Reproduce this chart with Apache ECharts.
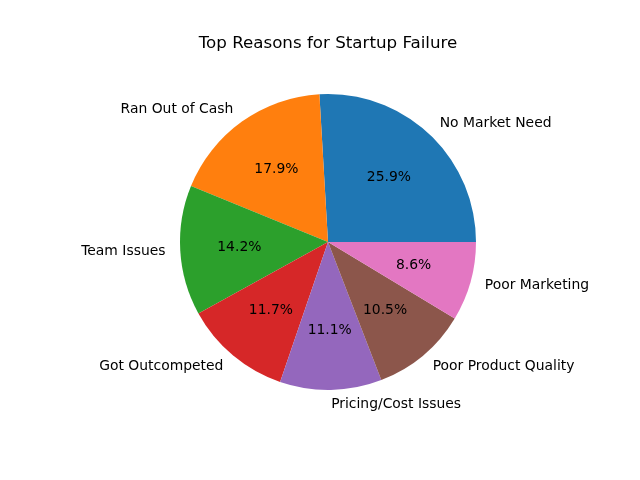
<!DOCTYPE html>
<html>
<head>
<meta charset="utf-8">
<script src="https://cdn.jsdelivr.net/npm/echarts@6/dist/echarts.min.js"></script>
<style>
  html, body { margin: 0; padding: 0; background: #fff; }
  #chart { width: 640px; height: 480px; }
</style>
</head>
<body>
<div id="chart"></div>
<script>
const reasons = [
  "No Market Need",
  "Ran Out of Cash",
  "Team Issues",
  "Got Outcompeted",
  "Pricing/Cost Issues",
  "Poor Product Quality",
  "Poor Marketing",
];
const counts = [42, 29, 23, 19, 18, 17, 14];
const colors = ["#1f77b4", "#ff7f0e", "#2ca02c", "#d62728", "#9467bd", "#8c564b", "#e377c2"];

const total = counts.reduce((a, b) => a + b, 0);
const pieData = reasons.map((name, i) => ({ name: name, value: counts[i] }));

// pie geometry, same spot as the matplotlib axes
const cx = 328;
const cy = 242;
const r = 148;
const font = "DejaVu Sans";

let chart = echarts.init(document.getElementById("chart"));

chart.setOption({
  animation: false,
  color: colors,
  title: {
    text: "Top Reasons for Startup Failure",
    left: cx - 5,
    top: 30,
    textAlign: "center",
    textStyle: { fontFamily: font, fontSize: 16.7, fontWeight: "normal", color: "#000" },
  },
  series: [
    {
      // slices + outside names
      type: "pie",
      center: [cx, cy],
      radius: [0, r],
      startAngle: 0,
      clockwise: false,
      avoidLabelOverlap: false,
      data: pieData,
      label: {
        show: true,
        position: "outside",
        distanceToLabelLine: 0,
        padding: [2, 0, 0, 0],
        fontFamily: font,
        fontSize: 13.9,
        color: "#000",
        formatter: "{b}",
      },
      labelLine: { show: false, length: r * 0.1, length2: 0 },
      itemStyle: { borderWidth: 0 },
      emphasis: { disabled: true },
    },
    {
      // invisible copy for the percent labels at 0.6 r
      type: "pie",
      silent: true,
      center: [cx, cy],
      radius: [0, (r * 0.6 - 3) * 2],
      startAngle: 0,
      clockwise: false,
      avoidLabelOverlap: false,
      data: pieData,
      itemStyle: { color: "rgba(0,0,0,0)" },
      label: {
        show: true,
        position: "inside",
        padding: [2, 0, 0, 0],
        fontFamily: font,
        fontSize: 13.9,
        color: "#000",
        formatter: (p) => ((p.value / total) * 100).toFixed(1) + "%",
      },
      labelLine: { show: false },
    },
  ],
});
</script>
</body>
</html>
